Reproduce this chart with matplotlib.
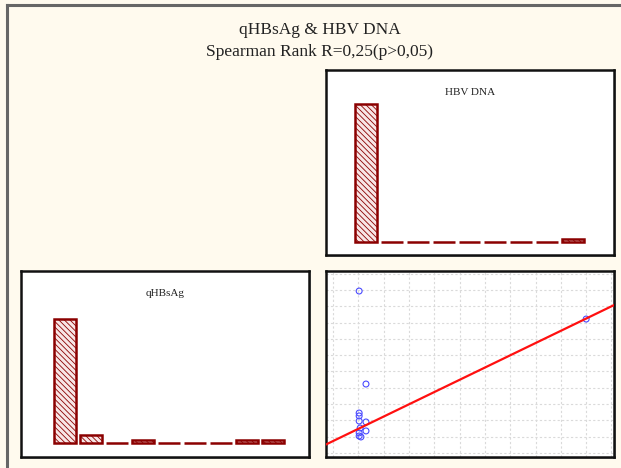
import numpy as np
import matplotlib
matplotlib.use("Agg")
import matplotlib.pyplot as plt
from matplotlib.patches import Rectangle
from matplotlib.lines import Line2D

# ---- data ----
title_line1 = "qHBsAg & HBV DNA"
title_line2 = "Spearman Rank R=0,25(p>0,05)"

hbv_counts = [46, 0, 0, 0, 0, 0, 0, 0, 1]
qhbsag_counts = [48, 3, 0, 1, 0, 0, 0, 1, 1]

scatter_x = [1.03, 1.03, 1.03, 1.30, 1.07, 1.30, 1.03, 1.03, 1.10, 1.03, 1.30, 10.0]
scatter_y = [2.45, 2.27, 1.96, 1.90, 1.53, 1.35, 1.23, 1.04, 0.98, 9.94, 4.23, 8.22]

fit_intercept = 0.73
fit_slope = 0.752

W, H = 621, 468
fig = plt.figure(figsize=(W / 100, H / 100), dpi=100)
fig.patch.set_facecolor("#FFFAEE")

serif = ["Liberation Serif", "DejaVu Serif"]

# figure frame (left and top lines)
fig.add_artist(Line2D([7 / W, 7 / W], [0, 1 - 5 / H], transform=fig.transFigure,
                      color="#666666", lw=2.2))
fig.add_artist(Line2D([7 / W, 1], [1 - 5 / H, 1 - 5 / H], transform=fig.transFigure,
                      color="#666666", lw=2.2))

fig.text(320 / W, 1 - 30 / H, title_line1, ha="center", va="center",
         fontsize=12.5, family=serif, color="#222222")
fig.text(320 / W, 1 - 52 / H, title_line2, ha="center", va="center",
         fontsize=12.5, family=serif, color="#222222")


def box(x0, y0, x1, y1):
    rect = [x0 / W, 1 - y1 / H, (x1 - x0) / W, (y1 - y0) / H]
    sh = Rectangle((rect[0] + 2 / W, rect[1] - 2 / H), rect[2], rect[3],
                   transform=fig.transFigure, facecolor="#9a9a9a",
                   edgecolor="none", zorder=-1)
    fig.add_artist(sh)
    ax = fig.add_axes(rect)
    ax.set_facecolor("white")
    for s in ax.spines.values():
        s.set_linewidth(1.8)
        s.set_color("#111111")
    ax.set_xticks([])
    ax.set_yticks([])
    return ax


plt.rcParams["hatch.linewidth"] = 0.6
plt.rcParams["hatch.color"] = "#C86A6A"

def hist_panel(ax, counts, title, xlim, ylim):
    idx = np.arange(len(counts))
    ax.bar(idx, counts, width=0.84, facecolor="#F8E6E6", edgecolor="#8B0000",
           linewidth=1.8, hatch="\\\\\\\\\\\\")
    ax.set_xlim(*xlim)
    ax.set_ylim(*ylim)
    ax.text(0.5, 0.88, title, transform=ax.transAxes, ha="center", va="center",
            fontsize=8, family=serif, color="#222222")


ax_hbv = box(326, 70, 614, 255)
hist_panel(ax_hbv, hbv_counts, "HBV DNA", (-1.56, 9.6), (-13 / 3.0, 172 / 3.0))

ax_q = box(21, 271, 309, 457)
hist_panel(ax_q, qhbsag_counts, "qHBsAg", (-1.69, 9.38), (-14 / 2.58, 172 / 2.58))

ax_s = box(326, 271, 614, 457)
ax_s.set_xlim(-0.28, 11.1)
ax_s.set_ylim(-0.25, 11.17)
ax_s.set_xticks(np.arange(0, 12))
ax_s.set_yticks(np.arange(0, 12))
ax_s.tick_params(length=0, labelbottom=False, labelleft=False)
ax_s.grid(True, color="#dadada", linestyle=(0, (2, 2)), linewidth=0.8)
ax_s.set_axisbelow(True)
ax_s.scatter(scatter_x, scatter_y, s=18, facecolors="none", edgecolors="#4a4aff",
             linewidths=0.8, zorder=3)
ax_s.axline((0, fit_intercept), slope=fit_slope, color="#ff1010", lw=1.6, zorder=4)

fig.savefig("out.png", dpi=100, facecolor=fig.get_facecolor())
